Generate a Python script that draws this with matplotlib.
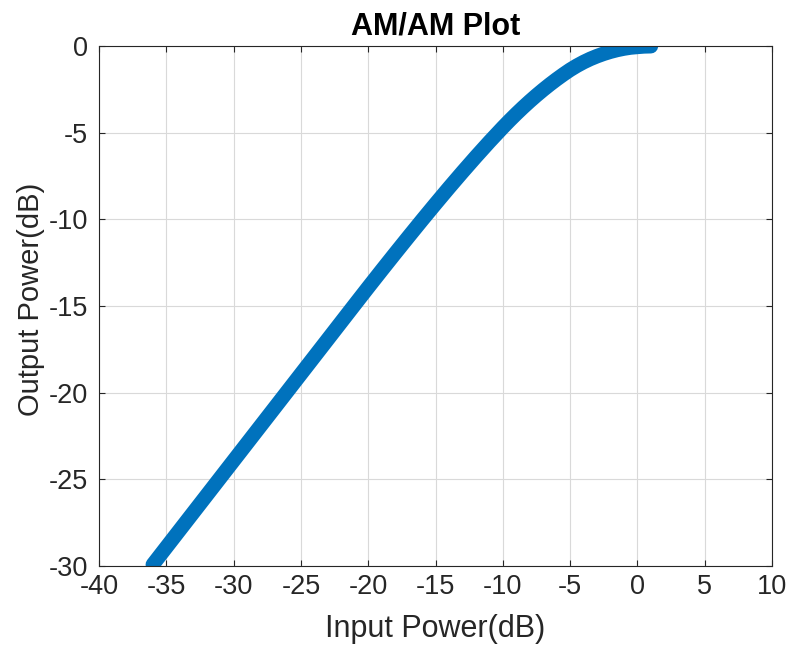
import matplotlib
matplotlib.use("Agg")
import matplotlib.pyplot as plt

# measured AM/AM response (input dB -> output dB)
pin_db = [-36, -35, -34, -33, -32, -31, -30, -29, -28, -27, -26, -25,
          -24, -23, -22, -21, -20, -19, -18, -17, -16, -15, -14, -13,
          -12, -11, -10, -9.5, -9, -8.5, -8, -7.5, -7, -6.5, -6, -5.5,
          -5, -4.5, -4, -3.5, -3, -2.5, -2, -1.5, -1, -0.5, 0, 0.5, 1]
pout_db = [-29.92, -28.92, -27.92, -26.92, -25.92, -24.92, -23.92, -22.92,
           -21.92, -20.92, -19.92, -18.92, -17.92, -16.92, -15.92, -14.92,
           -13.925, -12.94, -11.965, -11.0, -10.045, -9.105, -8.18, -7.275,
           -6.39, -5.53, -4.70, -4.30, -3.915, -3.545, -3.19, -2.85, -2.525,
           -2.215, -1.92, -1.64, -1.375, -1.14, -0.93, -0.745, -0.585,
           -0.445, -0.325, -0.225, -0.145, -0.085, -0.05, -0.02, -0.01]

x_ticks = list(range(-40, 11, 5))
y_ticks = list(range(-30, 1, 5))

plt.rcParams["font.family"] = ["Liberation Sans", "DejaVu Sans"]
plt.rcParams["axes.unicode_minus"] = False
axis_color = "#262626"

fig = plt.figure(figsize=(7.9, 6.47), dpi=100)
ax = fig.add_axes([99 / 790, 1 - 566 / 647, 673 / 790, 520 / 647])

ax.plot(pin_db, pout_db, color="#0072BD", linewidth=10.5,
        solid_capstyle="round", solid_joinstyle="round")

ax.set_xlim(-40, 10)
ax.set_ylim(-30, 0)
ax.set_xticks(x_ticks)
ax.set_yticks(y_ticks)
ax.grid(True, color="#d9d9d9", linewidth=0.8)
ax.set_axisbelow(True)

ax.tick_params(direction="in", length=4, width=0.8, colors=axis_color,
               labelsize=19.5, top=True, right=True)
ax.tick_params(axis="x", pad=6)
ax.tick_params(axis="y", pad=8)
for s in ax.spines.values():
    s.set_color(axis_color)
    s.set_linewidth(0.8)

ax.set_xlabel("Input Power(dB)", fontsize=22, color=axis_color)
ax.set_ylabel("Output Power(dB)", fontsize=21, color=axis_color)
ax.xaxis.set_label_coords(0.5, -0.092)
ax.yaxis.set_label_coords(-0.080, 0.513)
ax.set_title("AM/AM Plot", fontsize=22, fontweight="bold", pad=8.6)

fig.savefig("out.png", dpi=100)
